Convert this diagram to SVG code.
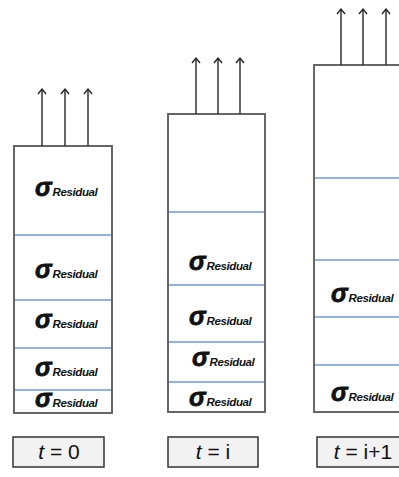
<svg xmlns="http://www.w3.org/2000/svg" width="399" height="477" viewBox="0 0 399 477">
  <defs>
    <marker id="head" viewBox="0 0 10 10" refX="8" refY="5" markerWidth="10" markerHeight="10" markerUnits="userSpaceOnUse" orient="auto">
      <path d="M3,1 L8,5 L3,9" fill="none" stroke="#222" stroke-width="1.4"/>
    </marker>
    <style>
      .bar { fill: #fff; stroke: #666; stroke-width: 2; }
      .layer { stroke: #6d98d8; stroke-width: 1.4; }
      .pull { stroke: #333; stroke-width: 1.5; marker-end: url(#head); }
      .sig { font-family: "Liberation Sans", Arial, sans-serif; font-weight: bold; font-style: italic; font-size: 25px; fill: #111; stroke: #111; stroke-width: 0.8; }
      .sub { font-family: "Liberation Sans", Arial, sans-serif; font-weight: bold; font-style: italic; font-size: 11.5px; fill: #111; letter-spacing: -0.4px; stroke: none; }
      .tag { fill: #f2f2f2; stroke: #333; stroke-width: 1.5; }
      .tagtxt { font-family: "Liberation Sans", Arial, sans-serif; font-size: 21px; fill: #111; text-anchor: middle; }
    </style>
  </defs>

  <!-- time step 0 -->
  <g id="bar-t0">
    <rect class="bar" x="14" y="146" width="98" height="267"/>
    <line class="layer" x1="15" y1="235" x2="111" y2="235"/>
    <line class="layer" x1="15" y1="300" x2="111" y2="300"/>
    <line class="layer" x1="15" y1="348" x2="111" y2="348"/>
    <line class="layer" x1="15" y1="390" x2="111" y2="390"/>
    <text x="35" y="196"><tspan class="sig">σ</tspan><tspan class="sub" dx="1">Residual</tspan></text>
    <text x="35" y="278"><tspan class="sig">σ</tspan><tspan class="sub" dx="1">Residual</tspan></text>
    <text x="35" y="328"><tspan class="sig">σ</tspan><tspan class="sub" dx="1">Residual</tspan></text>
    <text x="35" y="376"><tspan class="sig">σ</tspan><tspan class="sub" dx="1">Residual</tspan></text>
    <text x="35" y="407"><tspan class="sig">σ</tspan><tspan class="sub" dx="1">Residual</tspan></text>
  </g>

  <!-- time step i -->
  <g id="bar-ti">
    <rect class="bar" x="168" y="114" width="97" height="298"/>
    <line class="layer" x1="169" y1="212" x2="264" y2="212"/>
    <line class="layer" x1="169" y1="285" x2="264" y2="285"/>
    <line class="layer" x1="169" y1="342" x2="264" y2="342"/>
    <line class="layer" x1="169" y1="382" x2="264" y2="382"/>
    <text x="189" y="270"><tspan class="sig">σ</tspan><tspan class="sub" dx="1">Residual</tspan></text>
    <text x="189" y="325"><tspan class="sig">σ</tspan><tspan class="sub" dx="1">Residual</tspan></text>
    <text x="192" y="366"><tspan class="sig">σ</tspan><tspan class="sub" dx="1">Residual</tspan></text>
    <text x="189" y="406"><tspan class="sig">σ</tspan><tspan class="sub" dx="1">Residual</tspan></text>
  </g>

  <!-- time step i+1 -->
  <g id="bar-ti1">
    <rect class="bar" x="314" y="65" width="98" height="347"/>
    <line class="layer" x1="315" y1="178" x2="411" y2="178"/>
    <line class="layer" x1="315" y1="260" x2="411" y2="260"/>
    <line class="layer" x1="315" y1="317" x2="411" y2="317"/>
    <line class="layer" x1="315" y1="365" x2="411" y2="365"/>
    <text x="331" y="302"><tspan class="sig">σ</tspan><tspan class="sub" dx="1">Residual</tspan></text>
    <text x="331" y="401"><tspan class="sig">σ</tspan><tspan class="sub" dx="1">Residual</tspan></text>
  </g>

  <!-- applied load arrows -->
  <g id="connectors">
    <line class="pull" x1="42" y1="146" x2="42" y2="89"/>
    <line class="pull" x1="65" y1="146" x2="65" y2="89"/>
    <line class="pull" x1="88" y1="146" x2="88" y2="89"/>
    <line class="pull" x1="196" y1="114" x2="196" y2="58"/>
    <line class="pull" x1="218" y1="114" x2="218" y2="58"/>
    <line class="pull" x1="240" y1="114" x2="240" y2="58"/>
    <line class="pull" x1="341" y1="65" x2="341" y2="9"/>
    <line class="pull" x1="363" y1="65" x2="363" y2="9"/>
    <line class="pull" x1="386" y1="65" x2="386" y2="9"/>
  </g>

  <!-- time labels -->
  <g id="label-t0">
    <rect class="tag" x="13" y="437" width="91" height="30"/>
    <text class="tagtxt" x="59" y="459"><tspan font-style="italic">t</tspan> = 0</text>
  </g>
  <g id="label-ti">
    <rect class="tag" x="168" y="437" width="90" height="30"/>
    <text class="tagtxt" x="213" y="459"><tspan font-style="italic">t</tspan> = i</text>
  </g>
  <g id="label-ti1">
    <rect class="tag" x="317" y="437" width="91" height="30"/>
    <text class="tagtxt" x="363" y="459"><tspan font-style="italic">t</tspan> = i+1</text>
  </g>
</svg>
